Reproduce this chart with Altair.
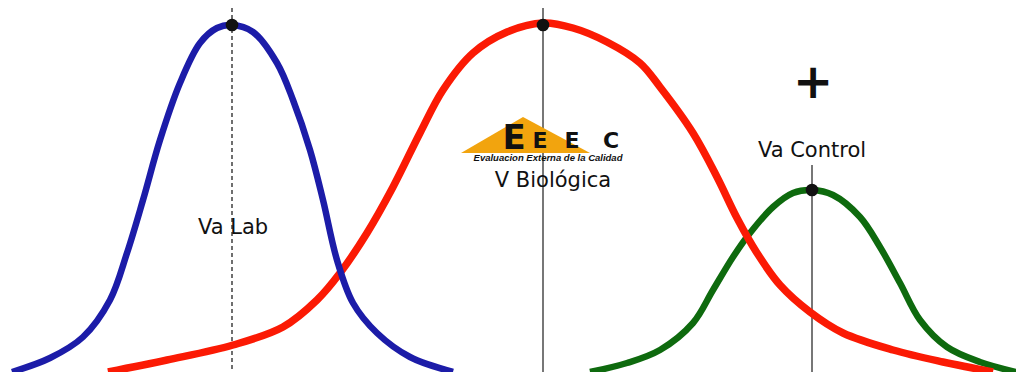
import altair as alt
import pandas as pd

# Curve samples (x position, height above the bottom)
blue_x = [12, 50, 83, 110, 127, 143, 160, 180, 200, 217, 232, 253, 277, 293, 310, 323, 337, 353, 377, 410, 453]
blue_y = [8, 22, 43, 80, 127, 180, 240, 297, 337, 352, 355, 348, 317, 280, 230, 180, 120, 77, 47, 23, 8]

red_x = [108, 167, 233, 283, 317, 340, 367, 393, 420, 443, 473, 507, 543, 573, 607, 640, 660, 693, 717, 737, 757, 780, 810, 843, 893, 943, 993]
red_y = [8, 20, 35, 53, 80, 107, 147, 193, 247, 290, 327, 348, 357, 352, 338, 317, 293, 247, 203, 162, 127, 95, 68, 47, 30, 18, 8]

green_x = [590, 627, 660, 693, 713, 733, 750, 773, 793, 812, 833, 860, 880, 900, 920, 947, 980, 1016]
green_y = [8, 17, 30, 57, 90, 123, 147, 173, 187, 190, 185, 163, 133, 97, 60, 33, 18, 8]

peaks_x = [232, 543, 812]
peaks_y = [355, 355, 190]
rule_top = [372, 372, 215]

labels = ["Va Lab", "V Biológica", "Va Control"]
label_x = [233, 553, 812]
label_y = [152, 199, 229]

logo_tri_x = [461, 523, 590]
logo_tri_y = [227, 263, 227]
logo_letters = ["E", "E", "E", "C"]
logo_letter_x = [514, 540, 572, 611]
logo_letter_y = [231, 232, 232, 232]
logo_letter_size = [34, 22, 22, 22]

def curve(xs, ys, name):
    return pd.DataFrame({"x": xs, "y": ys, "serie": name, "o": range(len(xs))})

xs = alt.Scale(domain=[8, 1016], nice=False, zero=False)
ys = alt.Scale(domain=[8, 372], nice=False, zero=False)
X = alt.X("x:Q", scale=xs, axis=None)
Y = alt.Y("y:Q", scale=ys, axis=None)

def line(df, color, w):
    return alt.Chart(df).mark_line(color=color, strokeWidth=w, interpolate="catmull-rom", strokeCap="butt").encode(
        x=X, y=Y, order="o:Q")

blue = line(curve(blue_x, blue_y, "lab"), "#1c1ca8", 6.5)
red = line(curve(red_x, red_y, "bio"), "#fb1a04", 7.5)
green = line(curve(green_x, green_y, "ctrl"), "#0e6a0e", 6.5)

rules_df = pd.DataFrame({"x": peaks_x, "top": rule_top, "bottom": [8, 8, 8], "kind": ["dash", "solid", "solid"]})
rule_dash = alt.Chart(rules_df[rules_df.kind == "dash"]).mark_rule(color="#222", strokeWidth=1.3, strokeDash=[4, 3]).encode(
    x=X, y=alt.Y("top:Q", scale=ys, axis=None), y2="bottom:Q")
rule_solid = alt.Chart(rules_df[rules_df.kind == "solid"]).mark_rule(color="#555", strokeWidth=1.6).encode(
    x=X, y=alt.Y("top:Q", scale=ys, axis=None), y2="bottom:Q")

dots = alt.Chart(pd.DataFrame({"x": peaks_x, "y": peaks_y})).mark_point(
    filled=True, color="#111", size=160, opacity=1).encode(x=X, y=Y)

text = alt.Chart(pd.DataFrame({"x": label_x, "y": label_y, "t": labels})).mark_text(
    font="DejaVu Sans", fontSize=21, color="#111", align="center", baseline="middle").encode(
    x=X, y=Y, text="t:N")

plus = alt.Chart(pd.DataFrame({"x": [813], "y": [296], "t": ["+"]})).mark_text(
    font="DejaVu Sans", fontSize=48, fontWeight="bold", color="#111", align="center", baseline="middle").encode(
    x=X, y=Y, text="t:N")

# Logo: orange triangle, letters and a tiny caption
tri_df = pd.DataFrame({"x": logo_tri_x, "y": logo_tri_y, "base": [227, 227, 227]})
tri = alt.Chart(tri_df).mark_area(color="#f2a40e", opacity=1, line=False).encode(
    x=X, y=Y, y2=alt.Y2("base:Q"))

letters_df = pd.DataFrame({"x": logo_letter_x, "y": logo_letter_y, "t": logo_letters, "s": logo_letter_size})
letters = alt.Chart(letters_df).mark_text(
    font="DejaVu Sans", fontWeight="bold", color="#111", align="center", baseline="alphabetic").encode(
    x=X, y=Y, text="t:N", size=alt.Size("s:Q", scale=None, legend=None))
caption = alt.Chart(pd.DataFrame({"x": [548], "y": [222], "t": ["Evaluacion Externa de la Calidad"]})).mark_text(
    font="Liberation Sans", fontSize=9.5, fontWeight="bold", fontStyle="italic", color="#111", align="center",
    baseline="middle").encode(x=X, y=Y, text="t:N")

chart = alt.layer(rule_dash, rule_solid, tri, letters, caption, green, red, blue, dots, text, plus).properties(
    width=1008, height=364, padding=0, autosize=alt.AutoSizeParams(type="none"),
    background="white"
).configure_view(stroke=None)

chart.save("out.html", embed_options={"renderer": "svg", "actions": False})
